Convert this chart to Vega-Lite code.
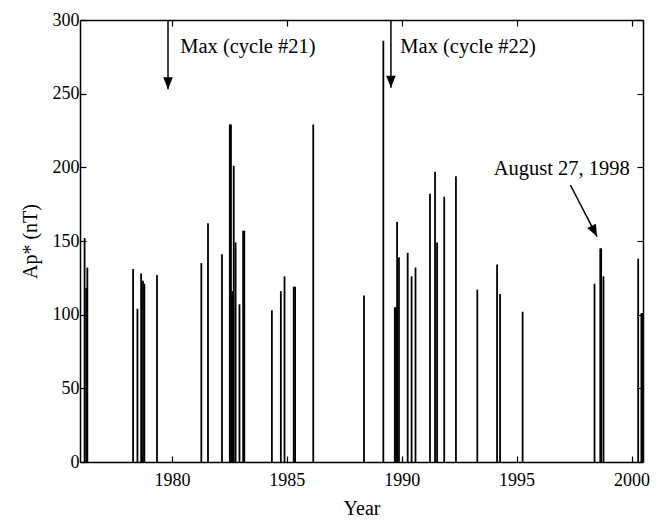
{
  "$schema": "https://vega.github.io/schema/vega-lite/v6.json",
  "autosize": "none",
  "width": 563,
  "height": 442,
  "padding": {"left": 80, "top": 20, "right": 18, "bottom": 58},
  "background": "white",
  "config": {
    "font": "Liberation Serif",
    "view": {"stroke": null},
    "axis": {
      "grid": false,
      "domainColor": "black",
      "domainWidth": 1.5,
      "tickColor": "black",
      "tickWidth": 1.2,
      "labelColor": "black",
      "titleColor": "black",
      "labelFont": "Liberation Serif",
      "titleFont": "Liberation Serif",
      "labelFontSize": 18,
      "titleFontSize": 20,
      "titleFontWeight": "normal"
    }
  },
  "datasets": {
    "storms": [
      {"year": 1976.2, "ap": 152},
      {"year": 1976.27, "ap": 118},
      {"year": 1976.32, "ap": 132},
      {"year": 1978.31, "ap": 131},
      {"year": 1978.5, "ap": 104},
      {"year": 1978.66, "ap": 128},
      {"year": 1978.74, "ap": 123},
      {"year": 1978.8, "ap": 121},
      {"year": 1979.35, "ap": 127},
      {"year": 1981.28, "ap": 135},
      {"year": 1981.57, "ap": 162},
      {"year": 1982.18, "ap": 141},
      {"year": 1982.52, "ap": 229},
      {"year": 1982.57, "ap": 229},
      {"year": 1982.62, "ap": 116},
      {"year": 1982.69, "ap": 201},
      {"year": 1982.77, "ap": 149},
      {"year": 1982.94, "ap": 107},
      {"year": 1983.1, "ap": 157},
      {"year": 1983.15, "ap": 157},
      {"year": 1984.35, "ap": 103},
      {"year": 1984.74, "ap": 116},
      {"year": 1984.9, "ap": 126},
      {"year": 1985.3, "ap": 119},
      {"year": 1985.36, "ap": 119},
      {"year": 1986.15, "ap": 229},
      {"year": 1988.36, "ap": 113},
      {"year": 1989.2, "ap": 286},
      {"year": 1989.7, "ap": 105},
      {"year": 1989.75, "ap": 105},
      {"year": 1989.8, "ap": 163},
      {"year": 1989.88, "ap": 139},
      {"year": 1990.26, "ap": 142},
      {"year": 1990.43, "ap": 126},
      {"year": 1990.6, "ap": 132},
      {"year": 1991.23, "ap": 182},
      {"year": 1991.45, "ap": 197},
      {"year": 1991.54, "ap": 149},
      {"year": 1991.85, "ap": 180},
      {"year": 1992.36, "ap": 194},
      {"year": 1993.29, "ap": 117},
      {"year": 1994.15, "ap": 134},
      {"year": 1994.28, "ap": 114},
      {"year": 1995.26, "ap": 102},
      {"year": 1998.39, "ap": 121},
      {"year": 1998.64, "ap": 145},
      {"year": 1998.68, "ap": 145},
      {"year": 1998.78, "ap": 126},
      {"year": 2000.29, "ap": 138},
      {"year": 2000.43, "ap": 101},
      {"year": 2000.47, "ap": 101}
    ],
    "vArrows": [
      {"year": 1979.83, "top": 300, "tip": 253},
      {"year": 1989.53, "top": 300, "tip": 254}
    ],
    "dArrow": [
      {"year": 1997.34, "ap": 188, "year2": 1998.5, "ap2": 153}
    ],
    "labels": [
      {"label": "Max (cycle #21)", "year": 1980.36, "ap": 282},
      {"label": "Max (cycle #22)", "year": 1989.94, "ap": 282},
      {"label": "August 27, 1998", "year": 1994.0, "ap": 199}
    ]
  },
  "resolve": {"axis": {"x": "independent", "y": "independent"}},
  "layer": [
    {
      "data": {"name": "storms"},
      "mark": {"type": "rule", "color": "black", "strokeWidth": 1.8},
      "encoding": {
        "x": {
          "field": "year", "type": "quantitative",
          "scale": {"domain": [1976, 2000.5], "nice": false, "zero": false},
          "axis": {"orient": "bottom", "title": "Year", "values": [1980, 1985, 1990, 1995, 2000], "format": "d", "tickSize": -6, "labelPadding": 15, "titlePadding": 9, "labelFlush": false}
        },
        "y": {
          "field": "ap", "type": "quantitative",
          "scale": {"domain": [0, 300], "nice": false},
          "axis": {"orient": "left", "title": "Ap* (nT)", "values": [0, 50, 100, 150, 200, 250, 300], "tickSize": -6, "labelPadding": 7, "titlePadding": 12, "labelFlush": false}
        },
        "y2": {"datum": 0}
      }
    },
    {
      "data": {"name": "vArrows"},
      "mark": {"type": "rule", "color": "black", "strokeWidth": 1.5},
      "encoding": {
        "x": {"field": "year", "type": "quantitative",
          "axis": {"orient": "top", "title": null, "labels": false, "values": [1980, 1985, 1990, 1995, 2000], "tickSize": -6}},
        "y": {"field": "top", "type": "quantitative",
          "axis": {"orient": "right", "title": null, "labels": false, "values": [0, 50, 100, 150, 200, 250, 300], "tickSize": -6}},
        "y2": {"field": "tip"}
      }
    },
    {
      "data": {"name": "vArrows"},
      "mark": {"type": "point", "shape": "M-0.4,-1L0.4,-1L0,0Z", "filled": true, "color": "black", "opacity": 1, "size": 576},
      "encoding": {
        "x": {"field": "year", "type": "quantitative", "axis": null},
        "y": {"field": "tip", "type": "quantitative", "axis": null}
      }
    },
    {
      "data": {"name": "dArrow"},
      "mark": {"type": "rule", "color": "black", "strokeWidth": 1.5},
      "encoding": {
        "x": {"field": "year", "type": "quantitative", "axis": null},
        "y": {"field": "ap", "type": "quantitative", "axis": null},
        "x2": {"field": "year2"},
        "y2": {"field": "ap2"}
      }
    },
    {
      "data": {"name": "dArrow"},
      "mark": {"type": "point", "shape": "M-0.4,-1L0.4,-1L0,0Z", "filled": true, "color": "black", "opacity": 1, "size": 576, "angle": 333},
      "encoding": {
        "x": {"field": "year2", "type": "quantitative", "axis": null},
        "y": {"field": "ap2", "type": "quantitative", "axis": null}
      }
    },
    {
      "data": {"name": "labels"},
      "mark": {"type": "text", "font": "Liberation Serif", "fontSize": 20.5, "color": "black", "baseline": "middle", "align": "left"},
      "encoding": {
        "x": {"field": "year", "type": "quantitative", "axis": null},
        "y": {"field": "ap", "type": "quantitative", "axis": null},
        "text": {"field": "label"}
      }
    }
  ]
}
